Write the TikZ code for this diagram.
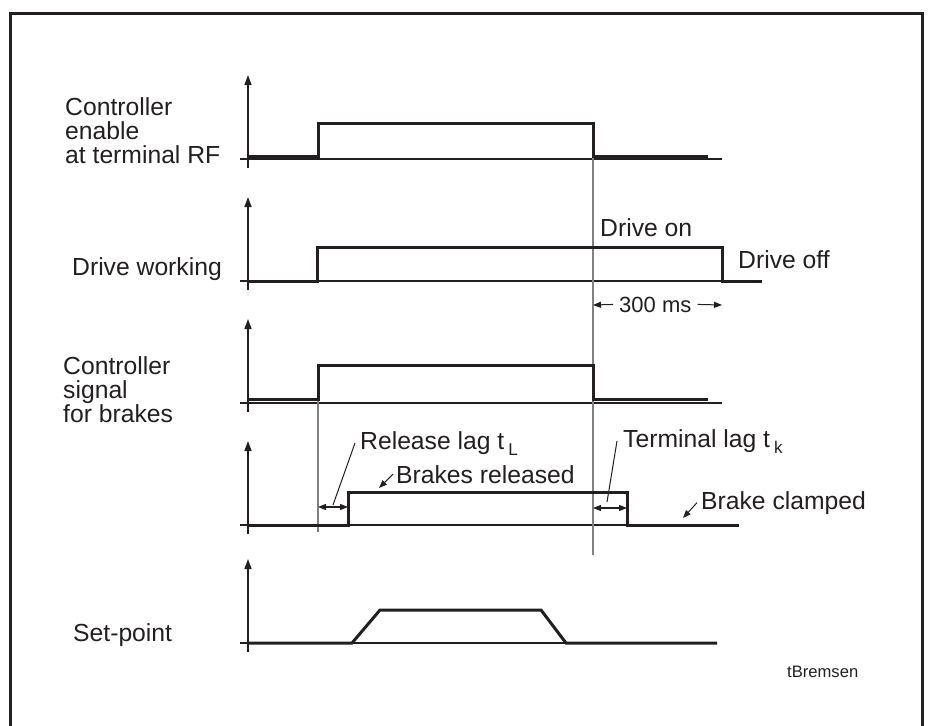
\documentclass[tikz,border=0pt]{standalone}
\usepackage{fontspec}
\setmainfont{Liberation Sans}
\usetikzlibrary{arrows.meta}
\definecolor{ink}{HTML}{231F20}
\tikzset{
  >={Triangle[length=8pt,width=6pt]},
  ax/.style={line width=1.4pt,draw=ink,-{Triangle[length=10pt,width=7pt]}},
  bl/.style={line width=1.3pt,draw=ink},
  sig/.style={line width=3pt,draw=ink},
  gl/.style={line width=1.4pt,draw=gray},
  lb/.style={anchor=base west,inner sep=0pt,text=ink,font=\fontsize{24.7}{24}\selectfont},
  ml/.style={lb,align=left},
  dim/.style={line width=1.1pt,draw=ink,<->},
  lead/.style={line width=1pt,draw=ink},
  every picture/.style={x=1pt,y=-1pt},
}
\newcommand\lagsub[1]{\,\raisebox{-6pt}{\fontsize{17}{17}\selectfont #1}}

\begin{document}
\begin{tikzpicture}
\useasboundingbox (0,0) rectangle (928,725);
\draw[line width=3pt,draw=ink] (10,727) -- (10,14) -- (922,14) -- (922,727);
% axes and zero lines
\foreach \y/\n/\e in {159/1/722,281/2/722,403/3/722,525/4/722,643/5/717}{
  \coordinate (b\n) at (248,\y+9); \coordinate (t\n) at (248,\y-84);
  \coordinate (z\n) at (240,\y); \coordinate (e\n) at (\e,\y);
  \draw[ax] (b\n) -- (t\n); \draw[bl] (z\n) -- (e\n);
}
% time marks
\coordinate (g1) at (593,156); \coordinate (g2) at (593,555);
\coordinate (h1) at (318,399); \coordinate (h2) at (318,532);
\draw[gl] (g1) -- (g2); \draw[gl] (h1) -- (h2);
% signals
\draw[sig] (248,156) -- (318,156) -- (318,123) -- (593,123) -- (593,156) -- (708,156);
\draw[sig] (248,281) -- (317,281) -- (317,247) -- (722,247) -- (722,281) -- (762,281);
\draw[sig] (248,399) -- (318,399) -- (318,365) -- (593,365) -- (593,399) -- (708,399);
\draw[sig] (248,525) -- (348,525) -- (348,492) -- (627,492) -- (627,525) -- (739,525);
\draw[sig] (248,643) -- (352,643) -- (380,610) -- (541,610) -- (566,643) -- (717,643);
% labels (multi-line ones sit on their last line)
\node[ml] (rf) at (65,163) {Controller\\enable\\at terminal RF};
\node[lb] (drv) at (72,275) {Drive working};
\node[ml] (csig) at (63,422) {Controller\\signal\\for brakes};
\node[lb] (setp) at (73,641) {Set-point};
\node[lb] (on) at (600,236) {Drive on};
\node[lb] (off) at (738,268) {Drive off};
\node[lb,font=\fontsize{22}{22}\selectfont] (ms) at (619,312) {300 ms};
\node[lb] (rel) at (360,449) {Release lag t\lagsub{L}};
\node[lb] (brel) at (396,483) {Brakes released};
\node[lb] (term) at (623,447) {Terminal lag t\lagsub{k}};
\node[lb] (bcl) at (701,509) {Brake clamped};
\node[lb,font=\fontsize{16.6}{16.6}\selectfont] (tag) at (787,677) {tBremsen};
% dimension arrows
\coordinate (m1) at (593,305); \coordinate (m2) at (722,305);
\draw[line width=1pt,draw=ink,->] ([xshift=-6pt]ms.west) -- (m1);
\draw[line width=1pt,draw=ink,->] ([xshift=6pt]ms.east) -- (m2);
\coordinate (r1) at (318,507); \coordinate (r2) at (348,507); \coordinate (r3) at (333,505);
\draw[dim] (r1) -- (r2); \draw[lead] ([xshift=-5pt]rel.west) -- (r3);
\coordinate (k1) at (593,508); \coordinate (k2) at (627,508); \coordinate (k3) at (607,502);
\draw[dim] (k1) -- (k2); \draw[lead] ([xshift=-6pt]term.west) -- (k3);
\coordinate (br) at (379,488); \coordinate (bc) at (683,518);
\draw[lead,->] ([xshift=-3pt]brel.west) -- (br);
\draw[lead,->] ([xshift=-4pt]bcl.west) -- (bc);
\end{tikzpicture}
\end{document}
